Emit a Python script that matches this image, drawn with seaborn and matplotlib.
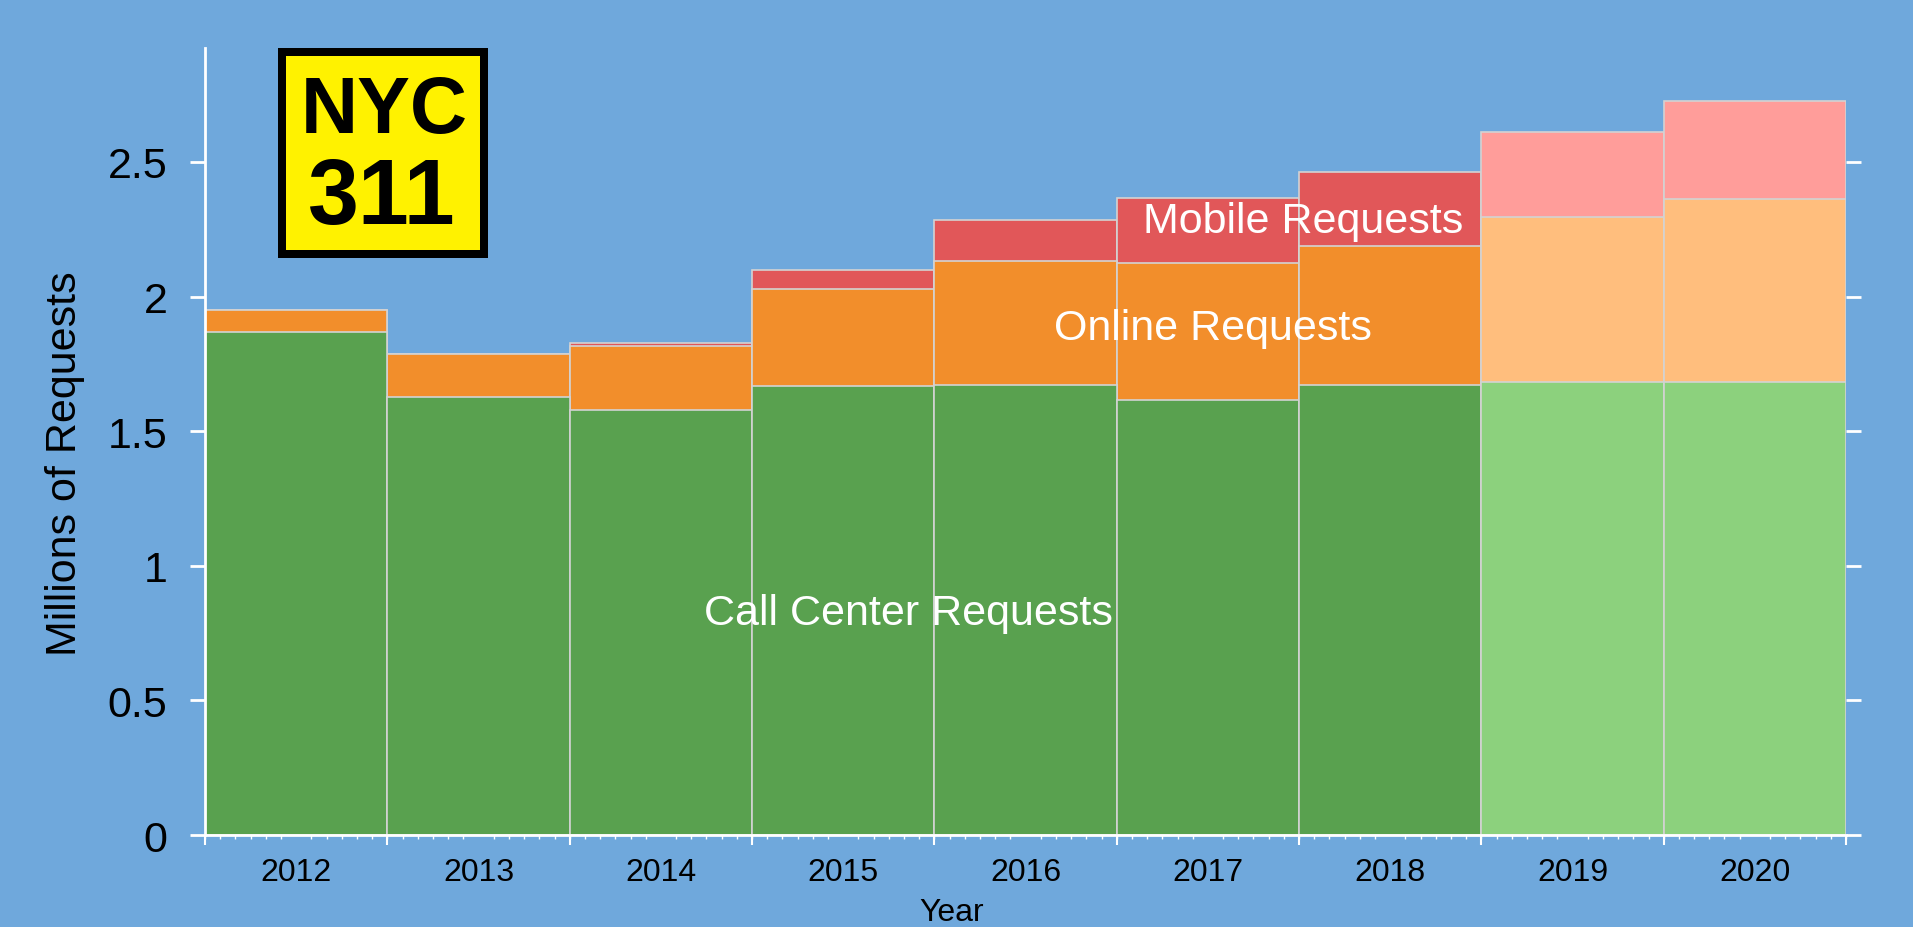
import numpy as np
import pandas as pd
import matplotlib
matplotlib.use("Agg")
import matplotlib.pyplot as plt
from matplotlib.patches import Rectangle
from matplotlib.ticker import MultipleLocator
import seaborn as sns

# NYC 311 requests by channel (millions), 2019-2020 are projected
years = ["2012", "2013", "2014", "2015", "2016", "2017", "2018", "2019", "2020"]
call_center = [1.869, 1.627, 1.579, 1.668, 1.673, 1.617, 1.672, 1.683, 1.683]
online = [0.082, 0.160, 0.237, 0.360, 0.461, 0.507, 0.517, 0.614, 0.681]
mobile = [0.0, 0.0, 0.012, 0.072, 0.151, 0.242, 0.273, 0.313, 0.361]
projected = [False, False, False, False, False, False, False, True, True]

sns.set_style("white")
plt.rcParams["font.family"] = ["Liberation Sans", "DejaVu Sans"]

df = pd.DataFrame({"year": years, "call": call_center, "online": online, "mobile": mobile})
df["call_online"] = df["call"] + df["online"]
df["total"] = df["call_online"] + df["mobile"]

bg = "#6FA8DC"
fig = plt.figure(figsize=(19.13, 9.28), dpi=100, facecolor=bg)
ax = fig.add_axes([0.1072, 0.0991, 0.8578, 0.848])
ax.set_facecolor(bg)

# draw cumulative layers from the top down so they look stacked
layers = [("total", "#E15759", "#FF9D9A"),
          ("call_online", "#F28E2B", "#FFBE7D"),
          ("call", "#59A14F", "#8CD17D")]
for col, actual, proj in layers:
    pal = {y: (proj if p else actual) for y, p in zip(years, projected)}
    sns.barplot(data=df, x="year", y=col, hue="year", palette=pal, width=1.0,
                saturation=1, edgecolor="#d3d3d3", linewidth=1.2,
                legend=False, ax=ax)

ax.set_xlim(-0.5, 8.5)
ax.set_ylim(0, 2.923)

sns.despine(ax=ax)
for s in ["left", "bottom"]:
    ax.spines[s].set_color("white")
    ax.spines[s].set_linewidth(2)

ax.set_yticks([0, 0.5, 1, 1.5, 2, 2.5])
ax.set_yticklabels(["0", "0.5", "1", "1.5", "2", "2.5"])
ax.tick_params(axis="y", which="major", left=True, right=True, length=11,
               width=2, color="white", labelsize=31, pad=16, labelcolor="black",
               direction="out")

# year labels centred in bars, month ticks below
ax.tick_params(axis="x", which="major", length=0, labelsize=23, pad=16, labelcolor="black")
ax.xaxis.set_minor_locator(MultipleLocator(1 / 12))
ax.tick_params(axis="x", which="minor", bottom=True, length=3, width=1, color="white")
sec = ax.secondary_xaxis("bottom")
sec.set_xticks(np.arange(-0.5, 9, 1))
sec.tick_params(length=7, width=1.5, color="white", labelbottom=False)
sec.spines["bottom"].set_visible(False)

ax.set_ylabel("Millions of Requests", fontsize=31, color="black")
ax.yaxis.set_label_coords(-0.073, 0.473)
ax.set_xlabel("Year", fontsize=23, color="black")
ax.xaxis.set_label_coords(0.455, -0.079)

ax.text(3.36, 0.825, "Call Center Requests", color="white", fontsize=31, ha="center", va="center")
ax.text(5.03, 1.883, "Online Requests", color="white", fontsize=31, ha="center", va="center")
ax.text(5.52, 2.281, "Mobile Requests", color="white", fontsize=31, ha="center", va="center")

# NYC 311 logo
W, H = 1913, 928
fig.patches.append(Rectangle((278 / W, 1 - 259 / H), 210 / W, 210 / H,
                             transform=fig.transFigure, facecolor="black",
                             edgecolor="none", zorder=5))
fig.patches.append(Rectangle((286 / W, 1 - 251 / H), 194 / W, 194 / H,
                             transform=fig.transFigure, facecolor="#FFF200",
                             edgecolor="none", zorder=6))
fig.text(384 / W, 1 - 112 / H, "NYC", fontsize=57, fontweight="bold", color="black",
         ha="center", va="center", zorder=7)
fig.text(382 / W, 1 - 200 / H, "311", fontsize=66, fontweight="bold", color="black",
         ha="center", va="center", zorder=7,
         family=["Liberation Sans Narrow", "Liberation Sans"])

fig.savefig("out.png", dpi=100, facecolor=bg)
